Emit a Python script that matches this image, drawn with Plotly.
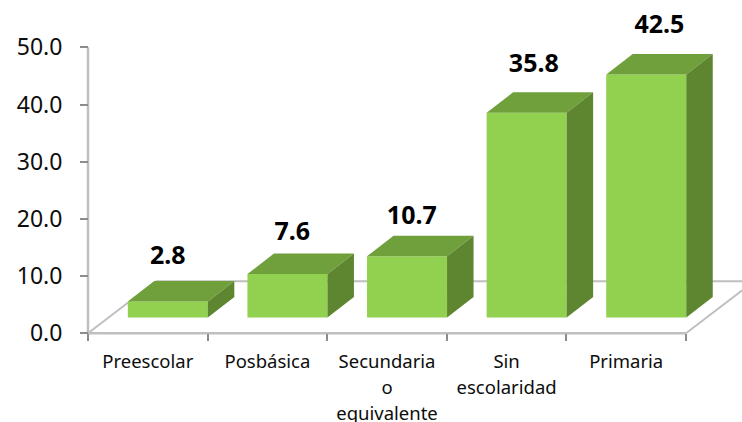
import plotly.graph_objects as go

categories = ["Preescolar", "Posbásica", "Secundaria<br>o<br>equivalente", "Sin<br>escolaridad", "Primaria"]
values = [2.8, 7.6, 10.7, 35.8, 42.5]
y_ticks = [0, 10, 20, 30, 40, 50]

label_dx = [0.0, 0.04, 0.04, 0.06, 0.11]
label_dy = [2.5, 1.8, 1.6, 3.0, 3.1]

W, H = 742, 422
X0, Y0 = 88, 333.3
PX_CAT, PX_UNIT = 119.6, 5.72

BAR_LEFT, BAR_W = 0.333, 0.669
BASE = 2.76
DX, DY = 0.2216, 3.58
FLOOR_DX, FLOOR_DY = 0.5686, 9.09

FRONT, TOP, SIDE = "#92D050", "#70A03C", "#5E8631"
GRID = "#BFBFBF"
TICK = "#8C8C8C"
TEXT = "#0D0D0D"
FONT = "Noto Sans"


def poly(xs, ys, color):
    return go.Scatter(x=xs, y=ys, mode="lines", fill="toself", fillcolor=color,
                      line=dict(width=0, color=color), hoverinfo="skip", showlegend=False)


fig = go.Figure()
centers = [i + BAR_LEFT + BAR_W / 2 for i in range(len(values))]
fig.add_trace(go.Bar(x=centers, y=values, base=BASE, width=BAR_W,
                     marker=dict(color=FRONT, line=dict(width=0)), showlegend=False))

for i, v in enumerate(values):
    l = i + BAR_LEFT
    r = l + BAR_W
    t = BASE + v
    fig.add_trace(poly([l, r, r + DX, l + DX, l], [t, t, t + DY, t + DY, t], TOP))
    fig.add_trace(poly([r, r + DX, r + DX, r, r], [BASE, BASE + DY, t + DY, t, BASE], SIDE))

fig.add_trace(go.Scatter(
    x=[c + d for c, d in zip(centers, label_dx)],
    y=[BASE + v + DY + d + 1.6 for v, d in zip(values, label_dy)],
    text=[f"{v:.1f}" for v in values], mode="text", textposition="middle center",
    textfont=dict(family=FONT, size=25, color="#000000", weight="bold"),
    hoverinfo="skip", showlegend=False))

n = len(values)
line = dict(color=GRID, width=2.5)
thin = dict(color=GRID, width=2)
shapes = [
    dict(type="line", xref="x", yref="y", layer="below", x0=0, x1=0, y0=0, y1=50, line=line),
    dict(type="line", xref="x", yref="y", layer="below", x0=0, x1=n, y0=0, y1=0, line=line),
    dict(type="line", xref="x", yref="y", layer="below", x0=0, x1=FLOOR_DX, y0=0, y1=FLOOR_DY, line=thin),
    dict(type="line", xref="x", yref="y", layer="below", x0=n, x1=n + FLOOR_DX, y0=0, y1=FLOOR_DY, line=thin),
    dict(type="line", xref="x", yref="y", layer="below", x0=FLOOR_DX, x1=n + FLOOR_DX, y0=FLOOR_DY, y1=FLOOR_DY, line=thin),
]

wrapped = ["<br>".join(f'<span style="font-size:18.5px">{p}</span>' for p in c.split("<br>")) for c in categories]

fig.update_layout(
    width=W, height=H, margin=dict(l=0, r=0, t=0, b=0),
    paper_bgcolor="white", plot_bgcolor="white", showlegend=False, shapes=shapes,
    xaxis=dict(
        domain=[0, 1], range=[-X0 / PX_CAT, (W - X0) / PX_CAT],
        anchor="free", position=(H - Y0) / H, showgrid=False, zeroline=False, showline=False,
        tickmode="array", tickvals=[i + 0.5 for i in range(n)], ticktext=wrapped,
        ticks="", tickangle=0, ticklabelstandoff=14,
        tickfont=dict(family=FONT, size=20, color=TEXT),
        minor=dict(tickmode="array", tickvals=list(range(n + 1)), ticks="outside",
                   ticklen=7, tickwidth=1.5, tickcolor=TICK, showgrid=False),
        automargin=False),
    yaxis=dict(
        domain=[0, 1], range=[(Y0 - H) / PX_UNIT, Y0 / PX_UNIT],
        anchor="free", position=X0 / W, showgrid=False, zeroline=False, showline=False,
        tickmode="array", tickvals=y_ticks, ticktext=[f"{t:.1f}" for t in y_ticks],
        ticks="outside", ticklen=8, tickwidth=1.5, tickcolor=TICK, ticklabelstandoff=13,
        tickfont=dict(family=FONT, size=23, color=TEXT), automargin=False),
)

fig.write_html("out.html", config={"displayModeBar": False},
               post_script="document.body.style.margin='0';document.body.style.overflow='hidden';")
